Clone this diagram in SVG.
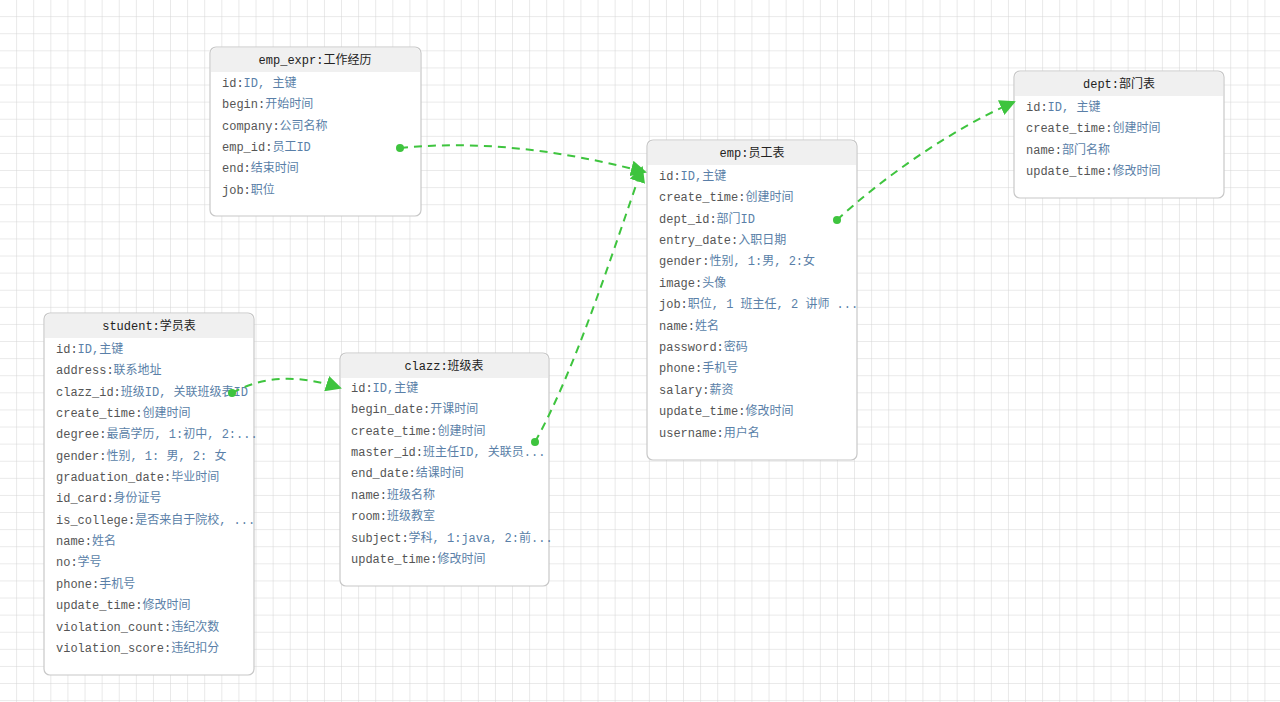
<svg xmlns="http://www.w3.org/2000/svg" width="1280" height="702" viewBox="0 0 1280 702">
<style>
.box{fill:#fff;stroke:#c8c8c8;stroke-width:1.2}
.hdr{fill:#f0f0f0}
.t{font-family:"Liberation Mono","Noto Sans CJK SC",monospace;font-size:12px;fill:#555}
.c{fill:#5a7fa8}
.h{font-family:"Liberation Mono","Noto Sans CJK SC",monospace;font-size:12px;fill:#222;text-anchor:middle}
.l{fill:none;stroke:#3ec43e;stroke-width:2;stroke-dasharray:8 6}
.d{fill:#3ec43e}
</style>
<defs>
<pattern id="g" width="17.1" height="17.1" patternUnits="userSpaceOnUse"><path d="M17.1 0V17.1H0" fill="none" stroke="#d4d4d4" stroke-width="1"/></pattern>
<marker id="a" markerWidth="16" markerHeight="16" refX="14" refY="8" orient="auto" markerUnits="userSpaceOnUse" viewBox="0 0 16 16"><path d="M0 0L16 8L0 16z" fill="#3ec43e"/></marker>
</defs>
<rect width="1280" height="702" fill="#fff"/>
<rect width="1280" height="702" fill="url(#g)"/>
<g id="emp_expr">
<rect class="box" x="210" y="47" width="211" height="169" rx="6"/>
<path class="hdr" d="M211 72V53a5 5 0 0 1 5-5h199a5 5 0 0 1 5 5v19z"/>
<text class="h" x="315" y="64">emp_expr:工作经历</text>
<text class="t" x="222" y="87">id:<tspan class="c">ID, 主键</tspan></text>
<text class="t" x="222" y="108">begin:<tspan class="c">开始时间</tspan></text>
<text class="t" x="222" y="130">company:<tspan class="c">公司名称</tspan></text>
<text class="t" x="222" y="151">emp_id:<tspan class="c">员工ID</tspan></text>
<text class="t" x="222" y="172">end:<tspan class="c">结束时间</tspan></text>
<text class="t" x="222" y="194">job:<tspan class="c">职位</tspan></text>
</g>
<g id="dept">
<rect class="box" x="1014" y="71" width="210" height="127" rx="6"/>
<path class="hdr" d="M1015 96V77a5 5 0 0 1 5-5h198a5 5 0 0 1 5 5v19z"/>
<text class="h" x="1119" y="88">dept:部门表</text>
<text class="t" x="1026" y="111">id:<tspan class="c">ID, 主键</tspan></text>
<text class="t" x="1026" y="132">create_time:<tspan class="c">创建时间</tspan></text>
<text class="t" x="1026" y="154">name:<tspan class="c">部门名称</tspan></text>
<text class="t" x="1026" y="175">update_time:<tspan class="c">修改时间</tspan></text>
</g>
<g id="emp">
<rect class="box" x="647" y="140" width="210" height="320" rx="6"/>
<path class="hdr" d="M648 165V146a5 5 0 0 1 5-5h198a5 5 0 0 1 5 5v19z"/>
<text class="h" x="752" y="157">emp:员工表</text>
<text class="t" x="659" y="180">id:<tspan class="c">ID,主键</tspan></text>
<text class="t" x="659" y="201">create_time:<tspan class="c">创建时间</tspan></text>
<text class="t" x="659" y="223">dept_id:<tspan class="c">部门ID</tspan></text>
<text class="t" x="659" y="244">entry_date:<tspan class="c">入职日期</tspan></text>
<text class="t" x="659" y="265">gender:<tspan class="c">性别, 1:男, 2:女</tspan></text>
<text class="t" x="659" y="287">image:<tspan class="c">头像</tspan></text>
<text class="t" x="659" y="308">job:<tspan class="c">职位, 1 班主任, 2 讲师 ...</tspan></text>
<text class="t" x="659" y="330">name:<tspan class="c">姓名</tspan></text>
<text class="t" x="659" y="351">password:<tspan class="c">密码</tspan></text>
<text class="t" x="659" y="372">phone:<tspan class="c">手机号</tspan></text>
<text class="t" x="659" y="394">salary:<tspan class="c">薪资</tspan></text>
<text class="t" x="659" y="415">update_time:<tspan class="c">修改时间</tspan></text>
<text class="t" x="659" y="437">username:<tspan class="c">用户名</tspan></text>
</g>
<g id="student">
<rect class="box" x="44" y="313" width="210" height="362" rx="6"/>
<path class="hdr" d="M45 338V319a5 5 0 0 1 5-5h198a5 5 0 0 1 5 5v19z"/>
<text class="h" x="149" y="330">student:学员表</text>
<text class="t" x="56" y="353">id:<tspan class="c">ID,主键</tspan></text>
<text class="t" x="56" y="374">address:<tspan class="c">联系地址</tspan></text>
<text class="t" x="56" y="396">clazz_id:<tspan class="c">班级ID, 关联班级表ID</tspan></text>
<text class="t" x="56" y="417">create_time:<tspan class="c">创建时间</tspan></text>
<text class="t" x="56" y="438">degree:<tspan class="c">最高学历, 1:初中, 2:...</tspan></text>
<text class="t" x="56" y="460">gender:<tspan class="c">性别, 1: 男, 2: 女</tspan></text>
<text class="t" x="56" y="481">graduation_date:<tspan class="c">毕业时间</tspan></text>
<text class="t" x="56" y="502">id_card:<tspan class="c">身份证号</tspan></text>
<text class="t" x="56" y="524">is_college:<tspan class="c">是否来自于院校, ...</tspan></text>
<text class="t" x="56" y="545">name:<tspan class="c">姓名</tspan></text>
<text class="t" x="56" y="566">no:<tspan class="c">学号</tspan></text>
<text class="t" x="56" y="588">phone:<tspan class="c">手机号</tspan></text>
<text class="t" x="56" y="609">update_time:<tspan class="c">修改时间</tspan></text>
<text class="t" x="56" y="631">violation_count:<tspan class="c">违纪次数</tspan></text>
<text class="t" x="56" y="652">violation_score:<tspan class="c">违纪扣分</tspan></text>
</g>
<g id="clazz">
<rect class="box" x="340" y="353" width="209" height="233" rx="6"/>
<path class="hdr" d="M341 378V359a5 5 0 0 1 5-5h197a5 5 0 0 1 5 5v19z"/>
<text class="h" x="444" y="370">clazz:班级表</text>
<text class="t" x="351" y="392">id:<tspan class="c">ID,主键</tspan></text>
<text class="t" x="351" y="413">begin_date:<tspan class="c">开课时间</tspan></text>
<text class="t" x="351" y="435">create_time:<tspan class="c">创建时间</tspan></text>
<text class="t" x="351" y="456">master_id:<tspan class="c">班主任ID, 关联员...</tspan></text>
<text class="t" x="351" y="477">end_date:<tspan class="c">结课时间</tspan></text>
<text class="t" x="351" y="499">name:<tspan class="c">班级名称</tspan></text>
<text class="t" x="351" y="520">room:<tspan class="c">班级教室</tspan></text>
<text class="t" x="351" y="542">subject:<tspan class="c">学科, 1:java, 2:前...</tspan></text>
<text class="t" x="351" y="563">update_time:<tspan class="c">修改时间</tspan></text>
</g>
<g id="connectors">
<path class="l" d="M400 148C480 140 560 150 645 172" marker-end="url(#a)"/>
<circle class="d" cx="400" cy="148" r="4"/>
<path class="l" d="M535 442C575 370 610 260 642 168" marker-end="url(#a)"/>
<circle class="d" cx="535" cy="442" r="4"/>
<path class="l" d="M837 220C880 180 950 130 1014 102" marker-end="url(#a)"/>
<circle class="d" cx="837" cy="220" r="4"/>
<path class="l" d="M232 393C265 375 300 375 340 388" marker-end="url(#a)"/>
<circle class="d" cx="232" cy="393" r="4"/>
</g>
</svg>
